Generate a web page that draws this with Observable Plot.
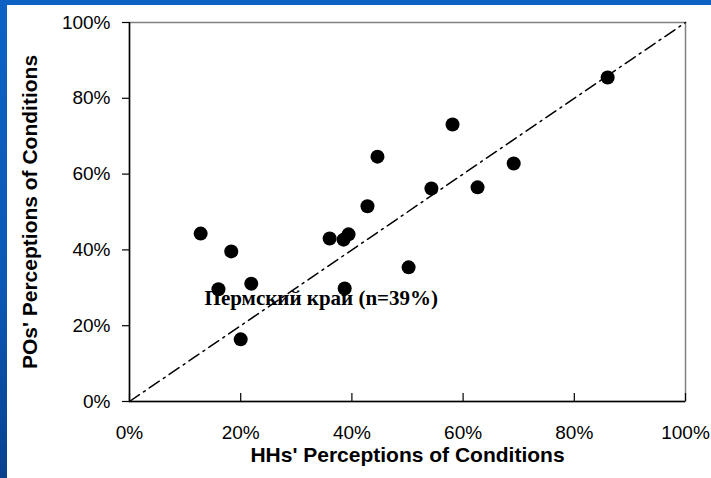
<!DOCTYPE html>
<html><head><meta charset="utf-8">
<script src="https://cdn.jsdelivr.net/npm/d3@7"></script>
<script src="https://cdn.jsdelivr.net/npm/@observablehq/plot@0.6"></script>
<style>
html,body{margin:0;padding:0;width:711px;height:478px;overflow:hidden;background:#0b5cbc;}
#bg{position:absolute;left:0;top:0;width:711px;height:478px;background:linear-gradient(180deg,#0d62c4 0%,#0b58b4 60%,#0a418f 100%);}
#panel{position:absolute;left:7px;top:5px;width:704px;height:473px;background:#fff;}
#chart{position:absolute;left:0;top:0;}
</style></head><body>
<div id="bg"></div><div id="panel"></div><div id="chart"></div>
<script>
// HHs' perceptions (x, %) and POs' perceptions (y, %)
const hhs = [12.8, 18.3, 16.0, 21.9, 20.0, 36.0, 38.5, 39.4, 50.2, 38.7, 44.6, 54.3, 42.8, 58.1, 69.1, 62.6, 86.0];
const pos = [44.3, 39.6, 29.6, 31.1, 16.4, 43.0, 42.7, 44.1, 35.4, 29.8, 64.6, 56.2, 51.5, 73.1, 62.8, 56.5, 85.5];
const xTicks = [0, 20, 40, 60, 80, 100];
const yTicks = [0, 20, 40, 60, 80, 100];
const diagonal = [0, 100];
const xLabel = "HHs' Perceptions of Conditions";
const yLabel = "POs' Perceptions of Conditions";
const annotText = ["Пермский край (n=39%)"];
const annotX = [34.5];
const annotY = [27.2];

const pts = hhs.map((x, i) => ({x, y: pos[i]}));
const annot = annotText.map((t, i) => ({text: t, x: annotX[i], y: annotY[i]}));
const sans = "Arial, 'Liberation Sans', sans-serif";

const chart = Plot.plot({
  width: 711, height: 478,
  marginLeft: 129, marginRight: 26, marginTop: 22, marginBottom: 77,
  style: {background: "transparent", fontFamily: sans, fontSize: "18px", color: "#000", overflow: "visible"},
  x: {domain: [0, 100]},
  y: {domain: [0, 100]},
  marks: [
    Plot.frame({stroke: "#808080", strokeWidth: 1.5}),
    Plot.ruleX([0], {stroke: "#000", strokeWidth: 1.5}),
    Plot.ruleY([0], {stroke: "#000", strokeWidth: 1.5}),
    Plot.tickX(xTicks, {x: d => d, insetTop: 371, stroke: "#000", strokeWidth: 1.2}),
    Plot.line(diagonal, {x: d => d, y: d => d, stroke: "#000", strokeWidth: 1.5, strokeDasharray: "12,5,2,5"}),
    Plot.dot(pts, {x: "x", y: "y", r: 7, fill: "#000", stroke: "none"}),
    Plot.text(annot, {x: "x", y: "y", text: "text", fontFamily: "'Times New Roman','Liberation Serif',serif", fontWeight: "bold", fontSize: 21, fill: "#000"}),
    Plot.axisX({ticks: xTicks, tickFormat: d => d + "%", tickSize: 0, tickPadding: 24, label: null, fontSize: 19}),
    Plot.axisY({ticks: yTicks, tickFormat: d => d + "%", tickSize: 7, tickPadding: 12, label: null, fontSize: 19, strokeWidth: 1.2}),
    Plot.text([xLabel], {text: d => d, frameAnchor: "bottom", dy: 60, fontWeight: "bold", fontSize: 21, fill: "#000"}),
    Plot.text([yLabel], {text: d => d, frameAnchor: "left", textAnchor: "middle", dx: -99, rotate: -90, fontWeight: "bold", fontSize: 21, fill: "#000"})
  ]
});
document.getElementById("chart").appendChild(chart);
</script>
</body></html>
